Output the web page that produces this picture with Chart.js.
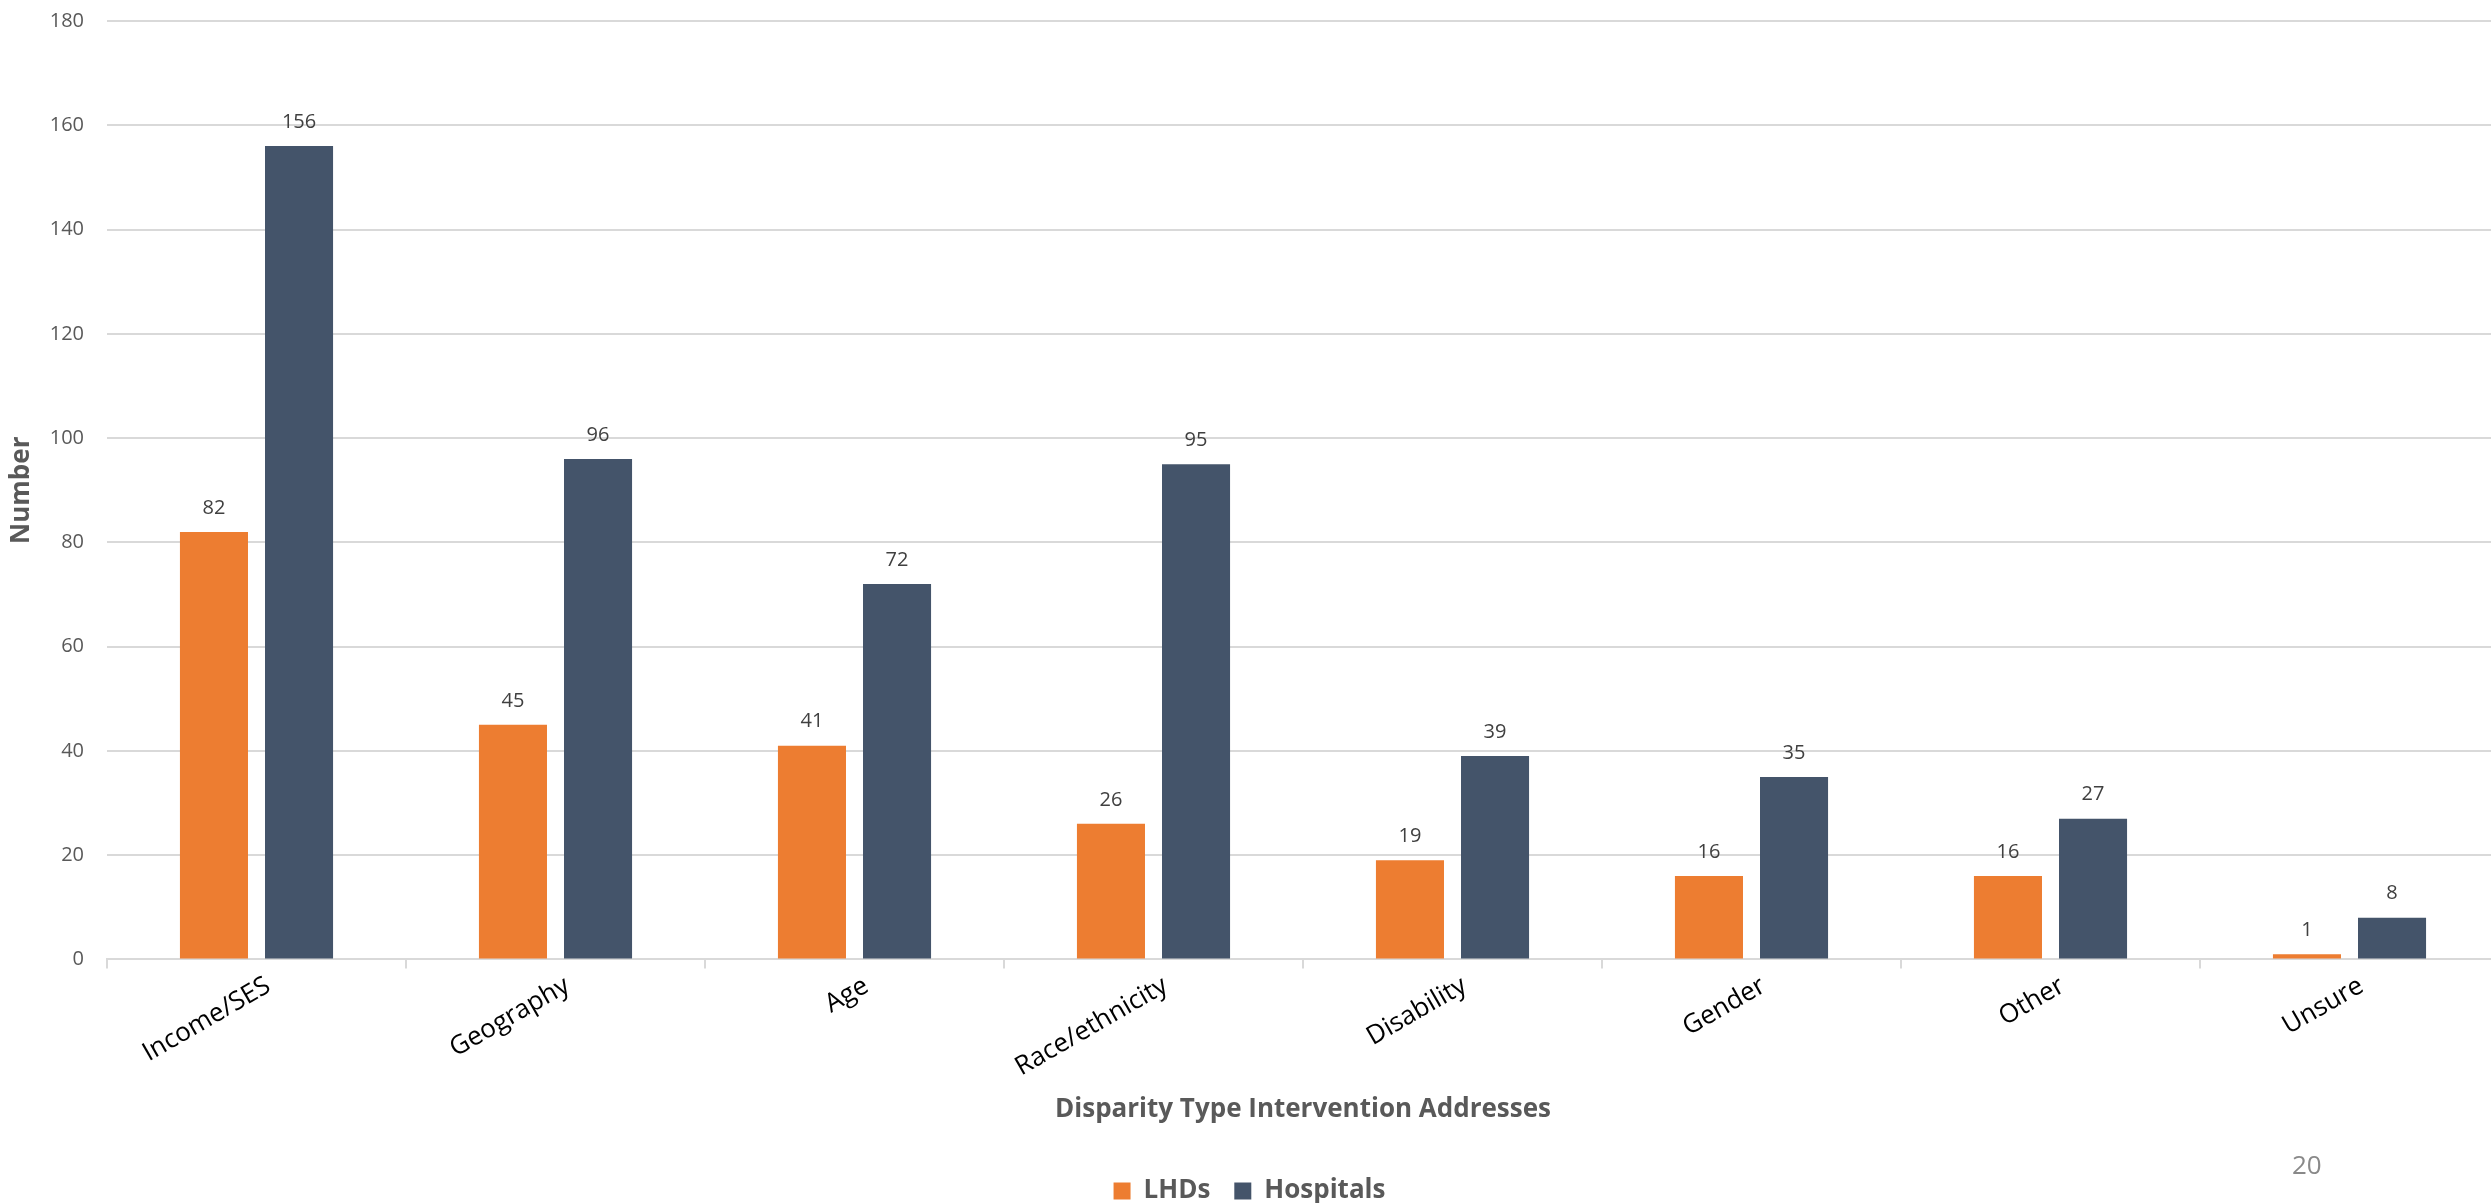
<!DOCTYPE html>
<html>
<head>
<meta charset="utf-8">
<script src="https://cdn.jsdelivr.net/npm/chart.js@4.4.1/dist/chart.umd.min.js"></script>
<style>
  html, body { margin: 0; padding: 0; background: #fff; overflow: hidden; }
  #wrap { position: relative; width: 2491px; height: 1203px; overflow: hidden; }
  #chart { position: absolute; left: 0; top: 0; }
  #pageNum { position: absolute; left: 2292px; top: 1146px; font: 26px "Open Sans", sans-serif; color: #898989; }
</style>
</head>
<body>
<div id="wrap">
  <canvas id="chart" width="2499" height="1214"></canvas>
  <div id="pageNum">20</div>
</div>
<script>
const categories = ['Income/SES', 'Geography', 'Age', 'Race/ethnicity', 'Disability', 'Gender', 'Other', 'Unsure'];
const lhds = [82, 45, 41, 26, 19, 16, 16, 1];
const hospitals = [156, 96, 72, 95, 39, 35, 27, 8];
const yTicks = [0, 20, 40, 60, 80, 100, 120, 140, 160, 180];

const FONT = '"Open Sans", sans-serif';

// value labels above each bar
const barLabels = {
  id: 'barLabels',
  afterDatasetsDraw(chart) {
    const ctx = chart.ctx;
    ctx.save();
    ctx.font = `20px ${FONT}`;
    ctx.fillStyle = '#404040';
    ctx.textAlign = 'center';
    ctx.textBaseline = 'bottom';
    chart.data.datasets.forEach((ds, i) => {
      chart.getDatasetMeta(i).data.forEach((bar, j) => {
        ctx.fillText(ds.data[j], bar.x, bar.y - 14);
      });
    });
    ctx.restore();
  }
};

new Chart(document.getElementById('chart'), {
  type: 'bar',
  data: {
    labels: categories,
    datasets: [
      { label: 'LHDs', data: lhds, backgroundColor: '#ED7D31' },
      { label: 'Hospitals', data: hospitals, backgroundColor: '#44546A' }
    ]
  },
  options: {
    responsive: false,
    animation: false,
    categoryPercentage: 0.569,
    barPercentage: 0.8,
    layout: { padding: { top: 21, left: 0, right: 0, bottom: 0 } },
    plugins: {
      legend: {
        position: 'bottom',
        labels: {
          boxWidth: 17, boxHeight: 17, padding: 24,
          color: '#595959',
          font: { family: FONT, size: 26, weight: 'bold' }
        }
      },
      tooltip: { enabled: false }
    },
    scales: {
      x: {
        grid: { display: true, drawOnChartArea: false, color: '#d9d9d9', lineWidth: 2, tickLength: 9 },
        border: { color: '#d9d9d9', width: 2 },
        ticks: {
          color: '#000',
          font: { family: FONT, size: 26 },
          maxRotation: 30, minRotation: 30,
          padding: 2,
          labelOffset: 12
        },
        title: {
          display: true,
          text: 'Disparity Type Intervention Addresses',
          color: '#595959',
          font: { family: FONT, size: 26, weight: 'bold' },
          padding: { top: 9, bottom: 29 }
        }
      },
      y: {
        min: 0, max: 180,
        afterBuildTicks: (axis) => { axis.ticks = yTicks.map(v => ({ value: v })); },
        afterFit: (axis) => { axis.width = 107; },
        grid: { color: '#d9d9d9', lineWidth: 2, drawTicks: true, tickLength: 23, tickColor: 'rgba(0,0,0,0)' },
        border: { display: false },
        ticks: {
          color: '#595959',
          font: { family: FONT, size: 20 },
          padding: 0
        },
        title: {
          display: true,
          text: 'Number',
          color: '#595959',
          font: { family: FONT, size: 26, weight: 'bold' },
          padding: { top: 6, bottom: 0 }
        }
      }
    }
  },
  plugins: [barLabels]
});
</script>
</body>
</html>
